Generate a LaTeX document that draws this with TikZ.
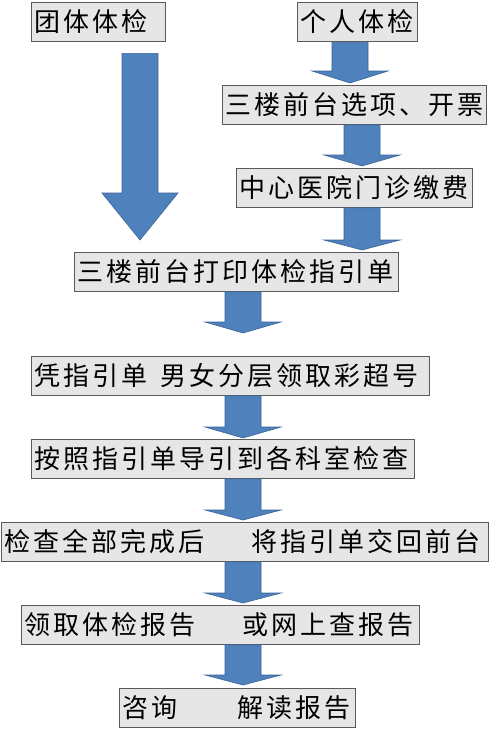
\documentclass[tikz,border=0pt]{standalone}
\usepackage{fontspec}
\usetikzlibrary{positioning, calc}
\newfontfamily\cjkfont[LetterSpace=11.5]{Noto Sans CJK SC}
\definecolor{cArrow}{HTML}{4F81BD}
\definecolor{cArrowEdge}{HTML}{3A6495}
\definecolor{cBoxFill}{HTML}{E6E6E6}
\definecolor{cBoxEdge}{HTML}{5A5A5A}
\tikzset{
  stepbox/.style={
    draw=cBoxEdge, fill=cBoxFill, line width=0.8pt,
    anchor=north west, minimum height=38.5pt,
    inner xsep=3pt, inner ysep=0pt,
    text width=#1, align=left,
    font=\cjkfont\fontsize{26pt}{30pt}\selectfont
  },
  flowarrow/.style={
    fill=cArrow, draw=cArrowEdge, line width=0.6pt, line join=miter
  },
}
% block arrow: from node, to node, x, top gap, tip gap, head length
\newcommand{\blockarrow}[6]{%
  \coordinate (s) at (#3,0 |- #1.south);
  \coordinate (t) at (#3,0 |- #2.north);
  \draw[flowarrow] ($(s)+(-18,#4)$) -- ($(t)+(-18,-#5-#6)$)
    -- ($(t)+(-38,-#5-#6)$) -- ($(t)+(0,-#5)$) -- ($(t)+(38,-#5-#6)$)
    -- ($(t)+(18,-#5-#6)$) -- ($(s)+(18,#4)$) -- cycle;}

\begin{document}
\begin{tikzpicture}[x=1pt, y=-1pt]
\useasboundingbox (0,0) rectangle (491,729);

% ---- Entry ----
\node[stepbox=128pt] (group) at (31,2) {团体体检};
\node[stepbox=114pt] (single) at (297,2) {个人体检};

% ---- Individual path ----
\node[stepbox=258pt] (desk) at (222,85) {三楼前台选项、开票};
\node[stepbox=230pt] (pay) at (236,168) {中心医院门诊缴费};

% ---- Common path ----
\node[stepbox=318pt] (print) at (74,252) {三楼前台打印体检指引单};
\node[stepbox=392pt] (scan) at (31,356) {凭指引单\hspace{13pt}男女分层领取彩超号};
\node[stepbox=377pt] (rooms) at (31,439) {按照指引单导引到各科室检查};
\node[stepbox=481pt] (back) at (1,522) {检查全部完成后\hspace{47pt}将指引单交回前台};
\node[stepbox=392pt] (report) at (21,605) {领取体检报告\hspace{47pt}或网上查报告};
\node[stepbox=230pt] (consult) at (119,688) {咨询\hspace{60pt}解读报告};

% ---- Arrows ----
\blockarrow{group}{print}{140}{12}{12}{47}
\blockarrow{single}{desk}{350}{1}{2}{12}
\blockarrow{desk}{pay}{362}{0.5}{2}{11}
\blockarrow{pay}{print}{362}{0.5}{2}{10}
\blockarrow{print}{scan}{243}{0.5}{23}{11}
\blockarrow{scan}{rooms}{243}{0.5}{1}{11}
\blockarrow{rooms}{back}{243}{0.5}{2}{10}
\blockarrow{back}{report}{243}{0.5}{2}{10}
\blockarrow{report}{consult}{243}{0.5}{3}{10}

\end{tikzpicture}
\end{document}
